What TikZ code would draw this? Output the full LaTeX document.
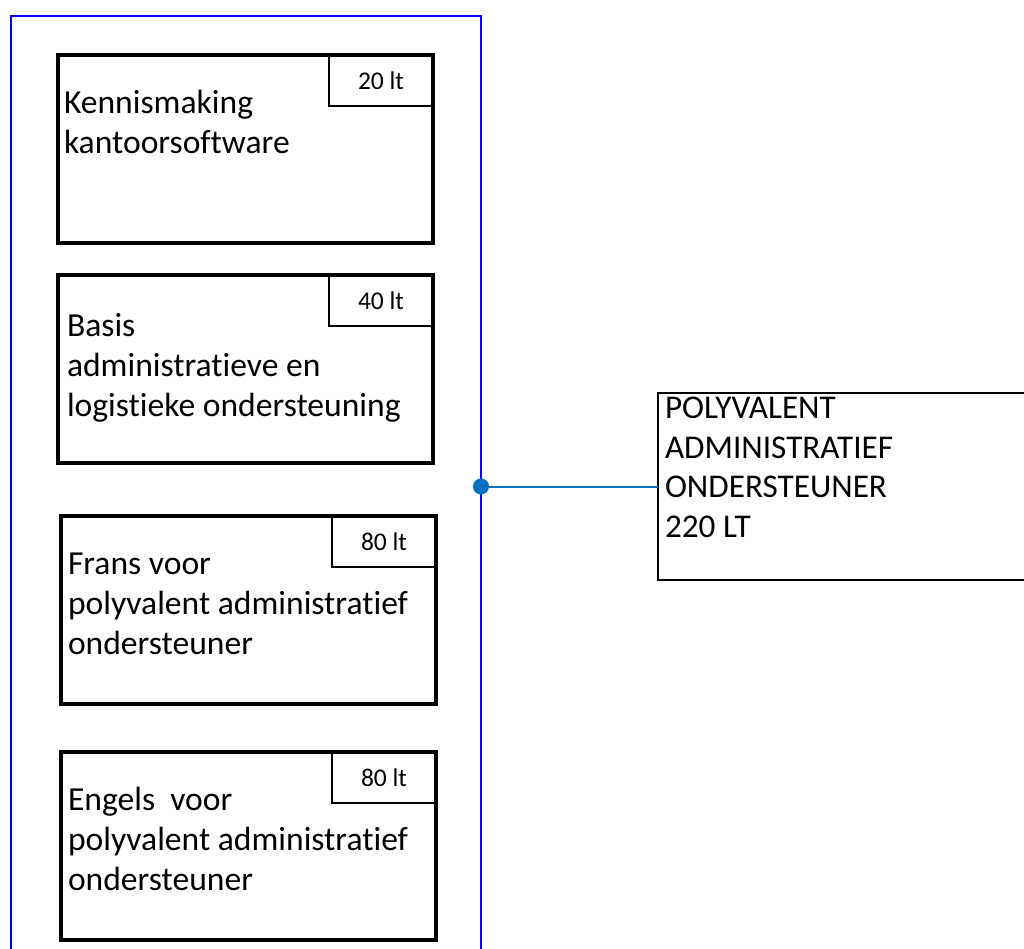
\documentclass[tikz,border=0pt]{standalone}
\usepackage{fontspec}
\setmainfont{Carlito}[RawFeature={-liga;-dlig;-clig}]
\usetikzlibrary{calc}

\definecolor{linkblue}{HTML}{0070C0}

\tikzset{
  every node/.style={outer sep=0pt},
  groupbox/.style={draw=blue, line width=2pt, rectangle, minimum width=470pt,
    minimum height=990pt, anchor=north west, inner sep=0pt},
  modbox/.style={draw=black, line width=4pt, rectangle, minimum width=375pt,
    minimum height=188pt, anchor=north west, inner sep=0pt},
  hourbox/.style={draw=black, line width=1.5pt, rectangle, minimum width=104pt,
    minimum height=51pt, anchor=north east, inner sep=0pt,
    font=\fontsize{25.5}{30}\selectfont},
  modtext/.style={align=left, inner sep=0pt, anchor=north west,
    font=\fontsize{33.6}{40}\selectfont},
  targetbox/.style={draw=black, line width=1.8pt, rectangle, minimum width=380pt,
    minimum height=187pt, anchor=north west, inner sep=0pt},
  targettext/.style={align=left, inner sep=0pt, anchor=north west,
    font=\fontsize{33.2}{39.5}\selectfont},
  conn/.style={draw=linkblue, line width=2pt},
  joint/.style={circle, fill=linkblue, minimum size=16pt, inner sep=0pt}
}

\begin{document}
\begin{tikzpicture}[x=1pt, y=-1pt]
  \useasboundingbox (0,0) rectangle (1024,949);
  \clip (0,0) rectangle (1024,949);

  % outer group holding the four modules
  \node[groupbox] (group) at (11,16) {};

  % modules
  \node[modbox] (m1) at (58,55) {};
  \node[modbox] (m2) at (58,275) {};
  \node[modbox] (m3) at (61,516) {};
  \node[modbox] (m4) at (61,752) {};

  % study hours per module
  \node[hourbox] (h1) at (m1.north east) {20 lt};
  \node[hourbox] (h2) at (m2.north east) {40 lt};
  \node[hourbox] (h3) at (m3.north east) {80 lt};
  \node[hourbox] (h4) at (m4.north east) {80 lt};

  % module titles
  \node[modtext] (t1) at ($(m1.north west)+(6,31)$)
    {\strut Kennismaking\\kantoorsoftware};
  \node[modtext] (t2) at ($(m2.north west)+(9,33)$)
    {\strut Basis\\administratieve en\\logistieke ondersteuning};
  \node[modtext] (t3) at ($(m3.north west)+(7,30)$)
    {\strut Frans voor\\polyvalent administratief\\ondersteuner};
  \node[modtext] (t4) at ($(m4.north west)+(7,30)$)
    {\strut Engels\ \ voor\\polyvalent administratief\\ondersteuner};

  % qualification
  \node[targetbox] (target) at (658,393) {};
  \node[targettext] (ttext) at ($(target.north west)+(7,-2)$)
    {\strut POLYVALENT\\ADMINISTRATIEF\\ONDERSTEUNER\\220 LT};

  % link between the group and the qualification
  \coordinate (gj) at (group.east |- target.west);
  \draw[conn] (gj) -- (target.west);
  \node[joint] (dot) at (gj) {};
\end{tikzpicture}
\end{document}
